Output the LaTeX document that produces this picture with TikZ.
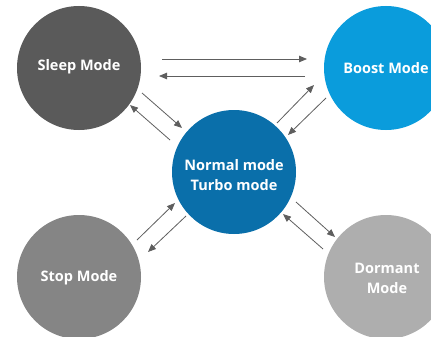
\documentclass[tikz,border=0pt]{standalone}
\usepackage{fontspec}
\setmainfont{Open Sans}
\usetikzlibrary{arrows.meta}
\definecolor{sleepc}{HTML}{5A5A5A}
\definecolor{boostc}{HTML}{0A9CDC}
\definecolor{normalc}{HTML}{0A6FAA}
\definecolor{stopc}{HTML}{858585}
\definecolor{dormc}{HTML}{AEAEAE}
\definecolor{arrc}{HTML}{5E5E5E}
\tikzset{
  mode/.style={circle, minimum size=124pt, inner sep=0pt, fill=#1},
  lbl/.style={text=white, font=\fontsize{14.5}{20}\selectfont\bfseries, align=center},
  conn/.style={draw=arrc, line width=0.8pt, -{Triangle[length=8pt,width=6.5pt]}}
}
\begin{document}
\begin{tikzpicture}[x=1pt,y=-1pt]
\useasboundingbox (0,0) rectangle (431,337);
\clip (0,0) rectangle (431,337);
\node[mode=sleepc] (sleep) at (79,68) {};
\node[mode=boostc] (boost) at (386,68) {};
\node[mode=normalc] (normal) at (234,172) {};
\node[mode=stopc] (stop) at (79,277) {};
\node[mode=dormc] (dorm) at (386,277) {};
\node[lbl] (sleepT) at (79,67) {Sleep Mode};
\node[lbl] (boostT) at (386,68) {Boost Mode};
\node[lbl] (normalT) at (234,175) {Normal mode\\Turbo mode};
\node[lbl] (stopT) at (79,278) {Stop Mode};
\node[lbl] (dormT) at (387,278) {Dormant\\Mode};
% sleep <-> boost
\coordinate (a1) at (162,59); \coordinate (a2) at (307,59);
\coordinate (b1) at (305,76); \coordinate (b2) at (159,76);
\draw[conn] (a1) -- (a2);
\draw[conn] (b1) -- (b2);
% sleep <-> normal
\coordinate (c1) at (142,93); \coordinate (c2) at (182,128);
\coordinate (d1) at (170,140); \coordinate (d2) at (130,105);
\draw[conn] (c1) -- (c2);
\draw[conn] (d1) -- (d2);
% normal <-> boost
\coordinate (e1) at (277,123); \coordinate (e2) at (314,85);
\coordinate (f1) at (326,98); \coordinate (f2) at (288,135);
\draw[conn] (e1) -- (e2);
\draw[conn] (f1) -- (f2);
% stop <-> normal
\coordinate (g1) at (137,240); \coordinate (g2) at (175,203);
\coordinate (h1) at (186,216); \coordinate (h2) at (148,252);
\draw[conn] (g1) -- (g2);
\draw[conn] (h1) -- (h2);
% normal <-> dormant
\coordinate (i1) at (296,202); \coordinate (i2) at (335,237);
\coordinate (j1) at (323,249); \coordinate (j2) at (283,214);
\draw[conn] (i1) -- (i2);
\draw[conn] (j1) -- (j2);
\end{tikzpicture}
\end{document}
